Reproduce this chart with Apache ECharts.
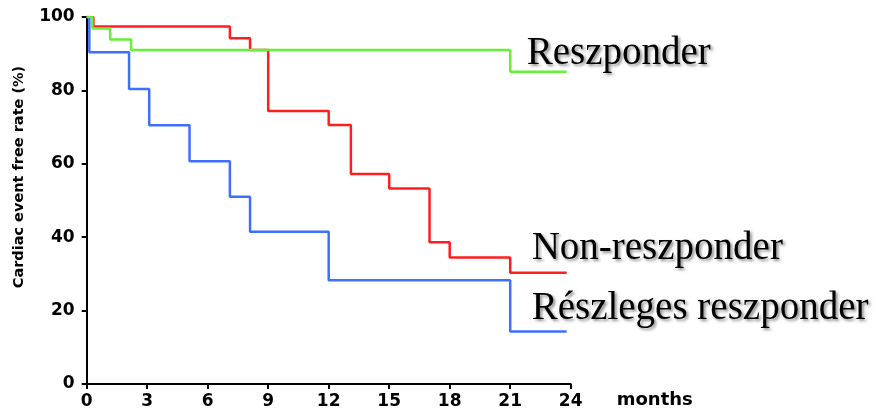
<!DOCTYPE html>
<html>
<head>
<meta charset="utf-8">
<script src="https://cdn.jsdelivr.net/npm/echarts@6/dist/echarts.min.js"></script>
<style>
html,body{margin:0;padding:0;background:#fff;}
#c{width:876px;height:410px;}
</style>
</head>
<body>
<div id="c"></div>
<script>
// Kaplan-Meier style step data: [month, rate%]
const xTicks = [0, 3, 6, 9, 12, 15, 18, 21, 24];
const yTicks = [0, 20, 40, 60, 80, 100];

const responderX = [0, 0.28, 1.16, 2.2, 21, 23.8];
const responderY = [100, 96.9, 93.9, 91.0, 85.1, 85.1];

const nonResponderX = [0, 0.33, 7.1, 8.1, 9, 12, 13.1, 15, 17, 18, 21, 23.8];
const nonResponderY = [100, 97.4, 94.2, 91.0, 74.4, 70.6, 57.2, 53.3, 38.6, 34.5, 30.3, 30.3];

const partialX = [0, 0.13, 2.1, 3.1, 5.1, 7.1, 8.1, 12, 21, 23.8];
const partialY = [100, 90.4, 80.4, 70.5, 60.7, 51.0, 41.5, 28.3, 14.3, 14.3];

const names = ['Reszponder', 'Non-reszponder', 'Részleges reszponder'];
const colors = ['#66f038', '#ff1e1e', '#3f6fff'];

function zip(xs, ys) { return xs.map((x, i) => [x, ys[i]]); }

const labelBase = {
  show: true,
  color: '#000',
  fontFamily: '"Liberation Serif", serif',
  fontSize: 39,
  textShadowColor: 'rgba(0,0,0,0.45)',
  textShadowBlur: 3,
  textShadowOffsetX: 2,
  textShadowOffsetY: 2,
  formatter: p => p.seriesName + '\n '
};

function mkSeries(i, data, distance, lh) {
  return {
    type: 'line',
    name: names[i],
    data: data,
    step: 'end',
    showSymbol: false,
    symbol: 'none',
    lineStyle: { color: colors[i], width: 2.5 },
    itemStyle: { color: colors[i] },
    endLabel: Object.assign({}, labelBase, { distance: distance, lineHeight: lh }),
    emphasis: { disabled: true },
    silent: true
  };
}

const chart = echarts.init(document.getElementById('c'), null, { renderer: 'canvas' });
chart.setOption({
  animation: false,
  backgroundColor: '#fff',
  grid: { left: 86.7, right: 305.3, top: 17, bottom: 25.7, containLabel: false },
  xAxis: {
    type: 'value', min: 0, max: 24, interval: 3,
    name: 'months', nameLocation: 'end', nameGap: 46,
    nameTextStyle: { fontFamily: '"DejaVu Sans", sans-serif', fontWeight: 'bold', fontSize: 18, color: '#000', align: 'left', verticalAlign: 'top', padding: [7, 0, 0, 0] },
    axisLine: { show: true, onZero: false, lineStyle: { color: '#000', width: 2 } },
    axisTick: { show: true, length: 5, lineStyle: { color: '#000', width: 2 } },
    axisLabel: { margin: 9, fontFamily: '"DejaVu Sans", sans-serif', fontWeight: 'bold', fontSize: 17, color: '#000',
      formatter: v => xTicks.includes(v) ? String(v) : '' },
    splitLine: { show: false }
  },
  yAxis: {
    type: 'value', min: 0, max: 100, interval: 20,
    name: 'Cardiac event free rate (%)', nameLocation: 'middle', nameGap: 60,
    nameTextStyle: { fontFamily: '"DejaVu Sans", sans-serif', fontWeight: 'bold', fontSize: 14.5, color: '#000', padding: [0, 0, 0, 47] },
    axisLine: { show: true, lineStyle: { color: '#000', width: 2 } },
    axisTick: { show: true, length: 5, lineStyle: { color: '#000', width: 2 } },
    axisLabel: { margin: 12, fontFamily: '"DejaVu Sans", sans-serif', fontWeight: 'bold', fontSize: 17, color: '#000',
      formatter: v => yTicks.includes(v) ? String(v) : '' },
    splitLine: { show: false }
  },
  series: [
    mkSeries(1, zip(nonResponderX, nonResponderY), -35, 47.4),
    mkSeries(2, zip(partialX, partialY), -35, 46.4),
    mkSeries(0, zip(responderX, responderY), -40, 36.8)
  ]
});
</script>
</body>
</html>
